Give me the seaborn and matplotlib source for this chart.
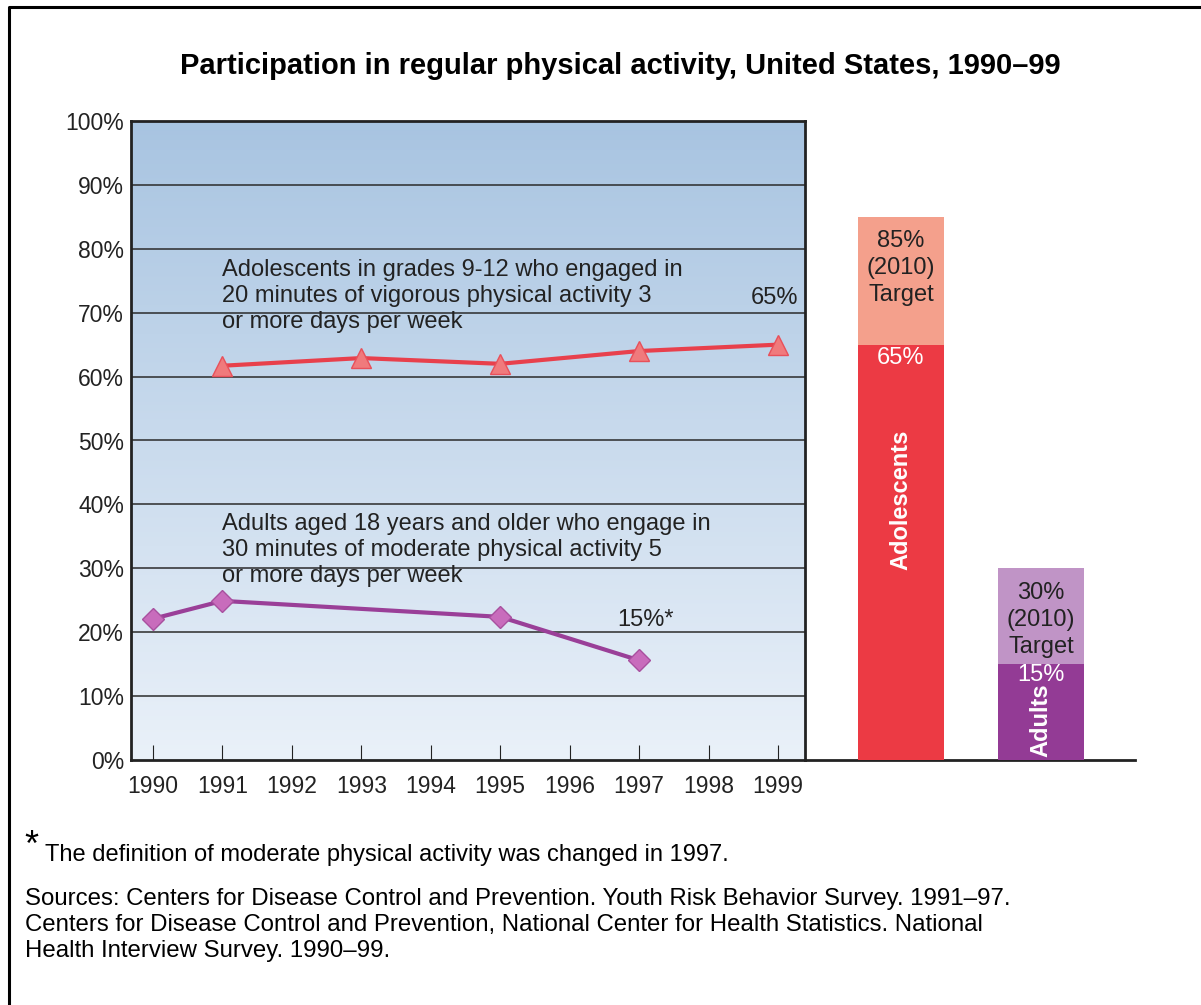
"""
Participation in regular physical activity, United States, 1990-99
Line chart of adolescents/adults plus 2010 target bars.
"""

import numpy as np
import matplotlib
matplotlib.use('Agg')
import matplotlib.pyplot as plt
from matplotlib.colors import LinearSegmentedColormap
from matplotlib.lines import Line2D
import seaborn as sns

# data
years = [1990, 1991, 1992, 1993, 1994, 1995, 1996, 1997, 1998, 1999]
adol_years = [1991, 1993, 1995, 1997, 1999]
adol_pct = [61.7, 62.9, 62.0, 64.0, 65.0]
adult_years = [1990, 1991, 1995, 1997]
adult_pct = [22.1, 24.9, 22.4, 15.6]
bar_groups = ['Adolescents', 'Adults']
bar_current = [65, 15]
bar_target = [85, 30]
y_ticks = [0, 10, 20, 30, 40, 50, 60, 70, 80, 90, 100]

sns.set_theme(style='white')
plt.rcParams['font.family'] = ['Liberation Sans', 'DejaVu Sans']

W, H = 1201, 1005
fig = plt.figure(figsize=(W / 100, H / 100), dpi=100)
fig.patch.set_facecolor('white')

def px_box(x0, y0, x1, y1):
    return [x0 / W, 1 - y1 / H, (x1 - x0) / W, (y1 - y0) / H]

ax1 = fig.add_axes(px_box(131, 121, 805, 760))
ax2 = fig.add_axes(px_box(805, 121, 1135, 760))

dark = '#222222'
red_line = '#e8404c'
purple_line = '#9a3f98'
fs = 17

# gradient background, darker blue at the top
x_lo, x_hi = 1990 - 22 / 69.4, 1999 + 27 / 69.4
grad = LinearSegmentedColormap.from_list('bg', ['#a8c4e1', '#eaf1f9'])
ax1.imshow(np.linspace(0, 1, 256).reshape(-1, 1), cmap=grad, aspect='auto',
           origin='upper', extent=[x_lo, x_hi, 0, 100], zorder=0)
ax1.set_xlim(x_lo, x_hi)
ax1.set_ylim(0, 100)

for yv in y_ticks[1:-1]:
    ax1.axhline(yv, color='#2b2b2b', lw=1.1, zorder=1)

# lines
sns.lineplot(x=adol_years, y=adol_pct, ax=ax1, color=red_line, lw=3,
             marker='^', markersize=15, markerfacecolor='#f07a7c',
             markeredgecolor='#e8505a', markeredgewidth=1, zorder=3)
sns.lineplot(x=adult_years, y=adult_pct, ax=ax1, color=purple_line, lw=3,
             marker='D', markersize=11, markerfacecolor='#c86cbc',
             markeredgecolor='#a8509f', markeredgewidth=1, zorder=3)

ax1.set_xticks(years)
ax1.set_xticklabels([str(y) for y in years])
ax1.set_yticks(y_ticks)
ax1.set_yticklabels([f'{v}%' for v in y_ticks])
ax1.tick_params(axis='x', direction='in', length=11, width=0.8, color=dark,
                pad=11, labelsize=fs - 0.5, labelcolor=dark, bottom=True)
ax1.tick_params(axis='y', length=0, pad=5, labelsize=fs - 0.5, labelcolor=dark, left=True)
ax1.set_xlabel('')
ax1.set_ylabel('')
for sp in ax1.spines.values():
    sp.set_visible(True)
    sp.set_color(dark)
    sp.set_linewidth(2)
ax1.grid(False)

txt = dict(color=dark, fontsize=fs, ha='left', va='center', linespacing=1.25)
ax1.text(1990.99, 72.6, 'Adolescents in grades 9-12 who engaged in\n'
         '20 minutes of vigorous physical activity 3\nor more days per week', **txt)
ax1.text(1990.99, 32.9, 'Adults aged 18 years and older who engage in\n'
         '30 minutes of moderate physical activity 5\nor more days per week', **txt)
ax1.text(1998.95, 72.3, '65%', color=dark, fontsize=fs, ha='center', va='center')
ax1.text(1997.09, 21.9, '15%*', color=dark, fontsize=fs, ha='center', va='center')

# target bars with current level stacked in front
sns.barplot(x=bar_groups, y=bar_target, hue=bar_groups, palette=['#f4a08c', '#c094c6'],
            legend=False, width=0.62, saturation=1, ax=ax2, zorder=2)
sns.barplot(x=bar_groups, y=bar_current, hue=bar_groups, palette=['#ec3a44', '#933b95'],
            legend=False, width=0.62, saturation=1, ax=ax2, zorder=3)
for p in ax2.patches:
    p.set_linewidth(0)
ax2.set_xlim(-96 / 140, 1 + 94 / 140)
ax2.set_ylim(0, 100)
ax2.set_xticks([])
ax2.set_yticks([])
ax2.set_xlabel('')
ax2.set_ylabel('')
ax2.patch.set_alpha(0)
for name, sp in ax2.spines.items():
    sp.set_visible(name == 'bottom')
ax2.spines['bottom'].set_color(dark)
ax2.spines['bottom'].set_linewidth(2)

bt = dict(ha='center', va='center', fontsize=fs, linespacing=1.32)
ax2.text(0, 77.0, '85%\n(2010)\nTarget', color=dark, **bt)
ax2.text(0, 62.9, '65%', color='white', **bt)
ax2.text(0, 40.7, 'Adolescents', color='white', rotation=90, fontweight='bold', **bt)
ax2.text(1, 21.9, '30%\n(2010)\nTarget', color=dark, **bt)
ax2.text(1, 13.3, '15%', color='white', **bt)
ax2.text(1, 6.3, 'Adults', color='white', rotation=90, fontweight='bold', **bt)

# title and notes
fig.text(620 / W, 1 - 66 / H, 'Participation in regular physical activity, United States, 1990–99',
         ha='center', va='center', fontsize=21, fontweight='bold', color='black')
fig.text(24 / W, 1 - 846 / H, '*', fontsize=26, color='black', ha='left', va='center')
fig.text(45 / W, 1 - 855 / H, 'The definition of moderate physical activity was changed in 1997.',
         fontsize=fs, color='black', ha='left', va='center')
fig.text(25 / W, 1 - 925 / H,
         'Sources: Centers for Disease Control and Prevention. Youth Risk Behavior Survey. 1991–97.\n'
         'Centers for Disease Control and Prevention, National Center for Health Statistics. National\n'
         'Health Interview Survey. 1990–99.',
         fontsize=17.3, color='black', ha='left', va='center', linespacing=1.25)

# outer frame (left and top edges)
fig.add_artist(Line2D([8.5 / W, 8.5 / W, 1.0], [0, 1 - 7.5 / H, 1 - 7.5 / H],
                      transform=fig.transFigure, color='black', lw=2.2))

fig.savefig('out.png', dpi=100)
